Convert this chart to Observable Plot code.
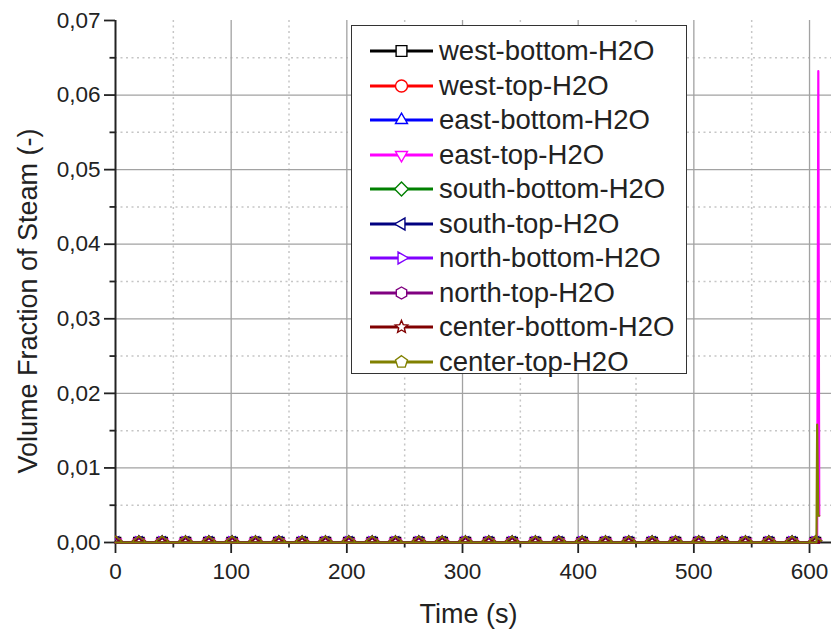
<!DOCTYPE html>
<html>
<head>
<meta charset="utf-8">
<script src="https://cdn.jsdelivr.net/npm/d3@7"></script>
<script src="https://cdn.jsdelivr.net/npm/@observablehq/plot@0.6"></script>
<style>
  html, body { margin: 0; padding: 0; background: #fff; }
  #wrap { position: relative; width: 831px; height: 632px; font-family: "Liberation Sans", Arial, sans-serif; }
  #legend { position: absolute; left: 351px; top: 25px; width: 336px; height: 349px; background: #fff; border: 1.3px solid #333; box-sizing: border-box; }
  .row { position: absolute; left: 0; height: 34px; display: flex; align-items: center; }
  .row svg { display: block; }
  .row span { font-size: 27.5px; color: #222; margin-left: 5px; white-space: nowrap; }
  #ytitle { position: absolute; left: 28px; top: 301px; transform: translate(-50%, -50%) rotate(-90deg); font-size: 27px; color: #222; white-space: nowrap; }
</style>
</head>
<body>
<div id="wrap"></div>
<script>
// ---- data ----
const seriesNames = ["west-bottom-H2O","west-top-H2O","east-bottom-H2O","east-top-H2O","south-bottom-H2O","south-top-H2O","north-bottom-H2O","north-top-H2O","center-bottom-H2O","center-top-H2O"];
const seriesColors = ["#000000","#ff0000","#0000ff","#ff00ff","#008000","#000080","#8000ff","#800080","#800000","#808000"];
const seriesSymbols = ["square","circle","triangleUp","triangleDown","diamond","triangleLeft","triangleRight","hexagon","star","pentagon"];

// times where markers sit (s)
const markerTime = [0, 20.2, 40.3, 60.5, 80.7, 100.8, 121.0, 141.2, 161.3, 181.5, 201.7, 221.9, 242.0, 262.2, 282.4, 302.5, 322.7, 342.9, 363.0, 383.2, 403.4, 423.6, 443.7, 463.9, 484.1, 504.2, 524.4, 544.6, 564.8, 584.9, 605.1];
// values of every series at those times (all sit on zero)
const baselineValue = [0, 0, 0, 0, 0, 0, 0, 0, 0, 0, 0, 0, 0, 0, 0, 0, 0, 0, 0, 0, 0, 0, 0, 0, 0, 0, 0, 0, 0, 0, 0];
// last few samples at the end of the run (s)
const spikeTime = [606.0, 606.6, 607.6, 608.4];
const westBottomSpike   = [0, 0, 0, 0];
const westTopSpike      = [0, 0, 0, 0];
const eastBottomSpike   = [0, 0, 0, 0];
const eastTopSpike      = [0, 0, 0.0632, 0.0036];
const southBottomSpike  = [0, 0, 0, 0];
const southTopSpike     = [0, 0, 0, 0];
const northBottomSpike  = [0, 0, 0, 0];
const northTopSpike     = [0, 0, 0, 0];
const centerBottomSpike = [0, 0, 0, 0];
const centerTopSpike    = [0, 0.0158, 0.0036, 0.0036];
const spikes = [westBottomSpike, westTopSpike, eastBottomSpike, eastTopSpike, southBottomSpike, southTopSpike, northBottomSpike, northTopSpike, centerBottomSpike, centerTopSpike];

// axis ticks
const xMajorTicks = [0, 100, 200, 300, 400, 500, 600];
const xMinorTicks = [50, 150, 250, 350, 450, 550];
const xGridMajor = [100, 200, 300, 400, 500, 600];
const yMajorTicks = [0, 0.01, 0.02, 0.03, 0.04, 0.05, 0.06, 0.07];
const yMinorTicks = [0.005, 0.015, 0.025, 0.035, 0.045, 0.055, 0.065];
const yGridMajor = [0.01, 0.02, 0.03, 0.04, 0.05, 0.06];

// ---- symbols ----
function polygon(n, rot, scale) {
  return { draw(ctx, size) {
    const r = Math.sqrt(size / Math.PI) * scale;
    for (let i = 0; i < n; i++) {
      const a = rot + 2 * Math.PI * i / n;
      const x = r * Math.cos(a), y = r * Math.sin(a);
      if (i === 0) ctx.moveTo(x, y); else ctx.lineTo(x, y);
    }
    ctx.closePath();
  }};
}
const symbolDefs = {
  square: { draw(ctx, size) { const h = Math.sqrt(size / Math.PI) * 0.9; ctx.moveTo(-h, -h); ctx.lineTo(h, -h); ctx.lineTo(h, h); ctx.lineTo(-h, h); ctx.closePath(); } },
  circle: { draw(ctx, size) { const r = Math.sqrt(size / Math.PI); ctx.moveTo(r, 0); ctx.arc(0, 0, r, 0, 2 * Math.PI); } },
  triangleUp: polygon(3, -Math.PI / 2, 1.15),
  triangleDown: polygon(3, Math.PI / 2, 1.15),
  triangleLeft: polygon(3, Math.PI, 1.15),
  triangleRight: polygon(3, 0, 1.15),
  diamond: polygon(4, 0, 1.15),
  hexagon: polygon(6, -Math.PI / 2, 1.0),
  pentagon: polygon(5, -Math.PI / 2, 1.05),
  star: { draw(ctx, size) {
    const R = Math.sqrt(size / Math.PI) * 1.1, r = R * 0.45;
    for (let i = 0; i < 10; i++) {
      const a = -Math.PI / 2 + Math.PI * i / 5, rr = i % 2 ? r : R;
      const x = rr * Math.cos(a), y = rr * Math.sin(a);
      if (i === 0) ctx.moveTo(x, y); else ctx.lineTo(x, y);
    }
    ctx.closePath();
  }}
};

// ---- build tables ----
const lineTime = markerTime.concat(spikeTime);
const seriesMarks = [];
seriesNames.forEach((name, k) => {
  const values = baselineValue.concat(spikes[k]);
  const rows = lineTime.map((t, i) => ({t, v: values[i]}));
  const markerRows = markerTime.map((t, i) => ({t, v: baselineValue[i]}));
  seriesMarks.push(Plot.line(rows, {x: "t", y: "v", stroke: seriesColors[k], strokeWidth: 2.2}));
  seriesMarks.push(Plot.dot(markerRows, {x: "t", y: "v", stroke: seriesColors[k], fill: "none", strokeWidth: 1.3, r: 5.8, symbol: symbolDefs[seriesSymbols[k]], clip: true}));
});

const fmt = d => d.toFixed(2).replace(".", ",");
const axisColor = "#222";

const chart = Plot.plot({
  width: 831, height: 632,
  marginLeft: 115, marginRight: 0, marginTop: 20, marginBottom: 90,
  x: {domain: [0, 619]},
  y: {domain: [0, 0.07]},
  style: {fontFamily: "'Liberation Sans', Arial, sans-serif", color: "#222", background: "#fff", overflow: "visible"},
  marks: [
    Plot.gridX(xMinorTicks, {stroke: "#c6c6c6", strokeOpacity: 1, strokeWidth: 1.5, strokeDasharray: "2,3.5"}),
    Plot.gridY(yMinorTicks, {stroke: "#c6c6c6", strokeOpacity: 1, strokeWidth: 1.5, strokeDasharray: "2,3.5"}),
    Plot.gridX(xGridMajor, {stroke: "#a2a2a2", strokeOpacity: 1, strokeWidth: 1.3}),
    Plot.gridY(yGridMajor, {stroke: "#a2a2a2", strokeOpacity: 1, strokeWidth: 1.3}),
    Plot.axisX(xMajorTicks, {tickSize: 11, tickPadding: 10, fontSize: 22.5, label: null, stroke: axisColor, strokeWidth: 1.8, fill: "#222"}),
    Plot.axisX(xMinorTicks, {tickSize: 5.5, tickFormat: () => "", label: null, stroke: axisColor, strokeWidth: 1.8}),
    Plot.axisY(yMajorTicks, {tickSize: 11, tickPadding: 4, tickFormat: fmt, fontSize: 22.5, label: null, stroke: axisColor, strokeWidth: 1.8, fill: "#222"}),
    Plot.axisY(yMinorTicks, {tickSize: 5.5, tickFormat: () => "", label: null, stroke: axisColor, strokeWidth: 1.8}),
    Plot.ruleX([0], {stroke: axisColor, strokeWidth: 2}),
    Plot.ruleY([0], {stroke: axisColor, strokeWidth: 2}),
    ...seriesMarks,
    Plot.text(["Time (s)"], {frameAnchor: "bottom", lineAnchor: "middle", dx: -5, dy: 72, fontSize: 27, fill: "#222"})
  ]
});

const wrap = document.getElementById("wrap");
wrap.appendChild(chart);

// y-axis title
const ytitle = document.createElement("div");
ytitle.id = "ytitle";
ytitle.textContent = "Volume Fraction of Steam (-)";
wrap.appendChild(ytitle);

// ---- legend ----
const legend = document.createElement("div");
legend.id = "legend";
const rowTop0 = 8, rowStep = 34.5;
seriesNames.forEach((name, k) => {
  const row = document.createElement("div");
  row.className = "row";
  row.style.top = (rowTop0 + k * rowStep) + "px";
  row.style.left = "18px";
  const p = d3.path();
  symbolDefs[seriesSymbols[k]].draw(p, Math.PI * 6 * 6);
  row.innerHTML = `<svg width="64" height="34" viewBox="0 0 64 34">
      <line x1="0" x2="63" y1="17" y2="17" stroke="${seriesColors[k]}" stroke-width="3"/>
      <path d="${p.toString()}" transform="translate(31.5,17)" fill="#fff" stroke="${seriesColors[k]}" stroke-width="1.4"/>
    </svg><span>${name}</span>`;
  legend.appendChild(row);
});
wrap.appendChild(legend);
</script>
</body>
</html>
